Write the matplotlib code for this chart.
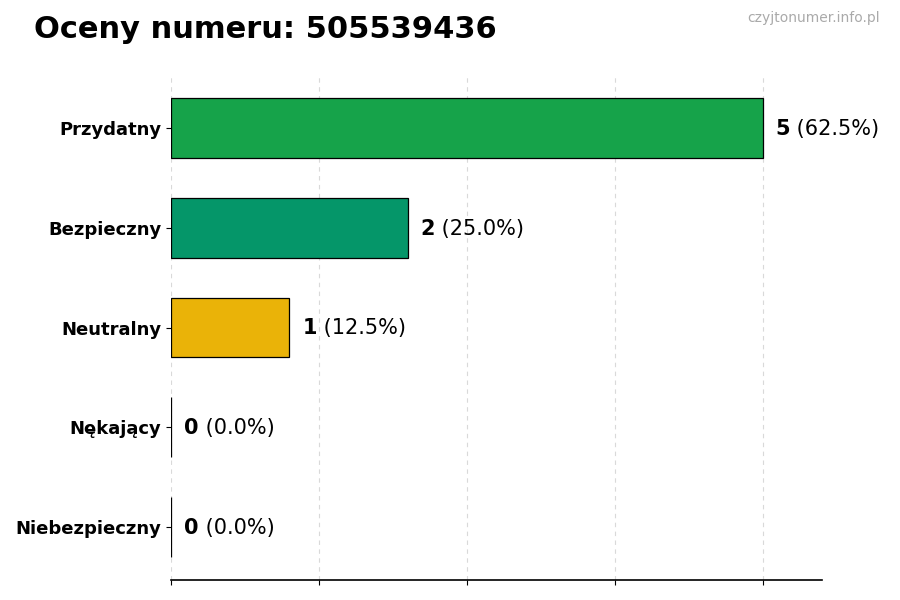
import matplotlib
matplotlib.use("Agg")
import matplotlib.pyplot as plt

categories = ["Przydatny", "Bezpieczny", "Neutralny", "Nękający", "Niebezpieczny"]
counts = [5, 2, 1, 0, 0]
colors = ["#16a34a", "#059669", "#eab308", "#dc2626", "#991b1b"]
title = "Oceny numeru: 505539436"
watermark = "czyjtonumer.info.pl"

total = sum(counts)
fig = plt.figure(figsize=(9, 6), dpi=100)
ax = fig.add_axes([0.19, 0.0333, 0.723, 0.8417])

ypos = list(range(len(categories)))[::-1]
ax.barh(ypos, counts, height=0.6, color=colors, edgecolor="black", linewidth=0.9, zorder=3)
ax.set_yticks(ypos)
ax.set_yticklabels(categories, fontsize=13, fontweight="bold")
ax.set_xlim(0, 5.5)
ax.set_xticks([0, 1.25, 2.5, 3.75, 5])
ax.set_xticklabels([])
ax.grid(axis="x", linestyle=(0, (4, 4)), color="#d9d9d9", linewidth=0.8, zorder=0)
for s in ["top", "right", "left"]:
    ax.spines[s].set_visible(False)
ax.spines["bottom"].set_linewidth(1.2)

fig.canvas.draw()
renderer = fig.canvas.get_renderer()
for y, c in zip(ypos, counts):
    pct = 100.0 * c / total if total else 0
    t1 = ax.annotate(str(c), xy=(c, y), xytext=(9.5, -0.6), textcoords="offset points",
                     va="center", ha="left", fontsize=15, fontweight="bold")
    fig.canvas.draw()
    bb = t1.get_window_extent(renderer)
    x_disp = bb.x1
    xd = ax.transData.inverted().transform((x_disp, 0))[0]
    ax.annotate(f" ({pct:.1f}%)", xy=(xd, y), xytext=(0, -0.6), textcoords="offset points",
                va="center", ha="left", fontsize=15)

fig.text(0.038, 0.95, title, fontsize=22, fontweight="bold", ha="left", va="center")
fig.text(0.978, 0.97, watermark, fontsize=10, color="#aaaaaa", ha="right", va="center")

fig.savefig("out.png", dpi=100)
